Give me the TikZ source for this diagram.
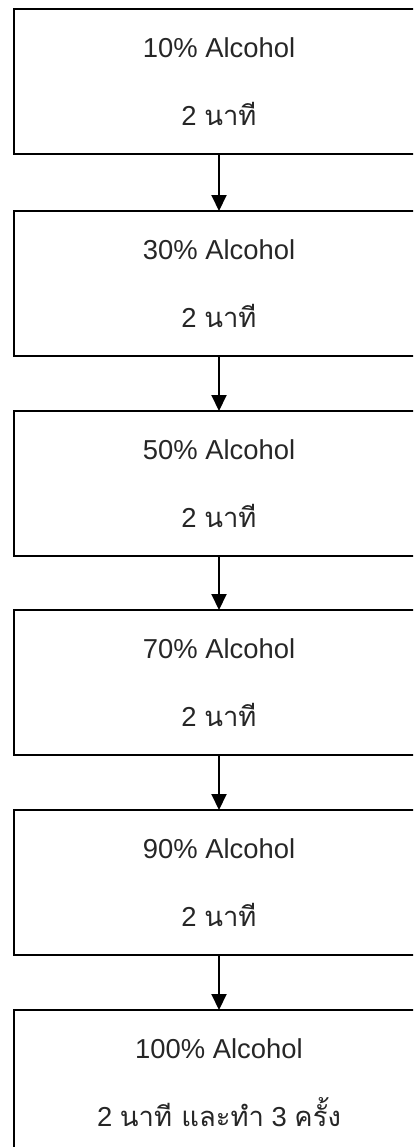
\documentclass[tikz,border=0pt]{standalone}
\usepackage{fontspec}
\setmainfont{Liberation Sans}
\newfontfamily\thaifont[Script=Thai]{Loma}
\usetikzlibrary{arrows.meta}
\tikzset{
  stepbox/.style={draw, rectangle, line width=2bp, outer sep=0pt, inner sep=0pt,
    minimum width=410bp, minimum height=145bp, anchor=north west,
    align=center, font=\fontsize{27.5}{68}\selectfont, text=black!85},
  arr/.style={line width=2bp, -{Triangle[width=15bp,length=16bp]}}
}
\begin{document}
\begin{tikzpicture}[x=1bp,y=-1bp]
\useasboundingbox (0,0) rectangle (413,1147);
\clip (0,0) rectangle (413,1147);
\node[stepbox] (b1) at (14,9) {10\% Alcohol\\2 {\thaifont นาที}};
\node[stepbox] (b2) at (14,211) {30\% Alcohol\\2 {\thaifont นาที}};
\node[stepbox] (b3) at (14,411) {50\% Alcohol\\2 {\thaifont นาที}};
\node[stepbox] (b4) at (14,610) {70\% Alcohol\\2 {\thaifont นาที}};
\node[stepbox] (b5) at (14,810) {90\% Alcohol\\2 {\thaifont นาที}};
\node[stepbox] (b6) at (14,1010) {100\% Alcohol\\2 {\thaifont นาที และทำ} 3 {\thaifont ครั้ง}};
\draw[arr] (b1.south) -- (b2.north);
\draw[arr] (b2.south) -- (b3.north);
\draw[arr] (b3.south) -- (b4.north);
\draw[arr] (b4.south) -- (b5.north);
\draw[arr] (b5.south) -- (b6.north);
\end{tikzpicture}
\end{document}
